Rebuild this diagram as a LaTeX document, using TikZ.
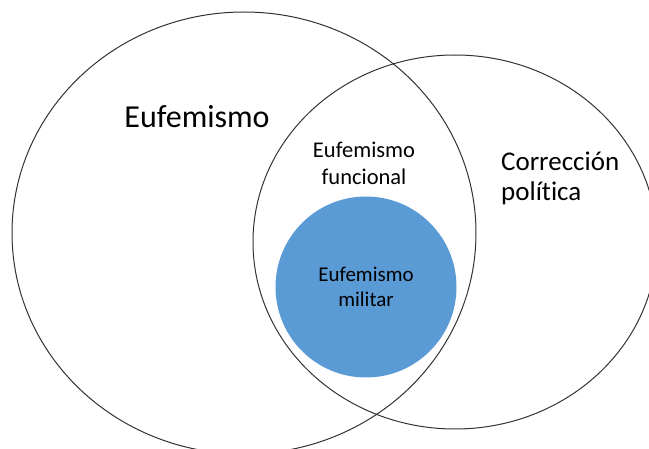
\documentclass[tikz,border=0pt]{standalone}
\usepackage{fontspec}
\setmainfont{Carlito}[Ligatures=NoCommon]
\usetikzlibrary{shapes.geometric}
\definecolor{militarblue}{HTML}{5B9BD5}

\begin{document}
\begin{tikzpicture}[x=1pt, y=-1pt,
		set/.style={ellipse, draw=black!80, line width=1pt},
		settext/.style={align=center, inner sep=0pt}]
	\clip (0,0) rectangle (649,449);
	\fill[white] (0,0) rectangle (649,449);

	% the two big sets
	\node[set, minimum width=464pt, minimum height=442pt] (eufemismo) at (244,233) {};
	\node[set, minimum width=404pt, minimum height=374pt] (correccion) at (455,242) {};

	% the inner set, filled
	\node[circle, fill=militarblue, minimum size=181pt, settext,
		font=\fontsize{21}{25}\selectfont] (militar) at (366,287) {Eufemismo\\militar};

	\node[settext, anchor=base, font=\fontsize{32}{38}\selectfont] (eufemismotext) at (197,128) {Eufemismo};
	\node[settext, font=\fontsize{22.5}{27}\selectfont] (funcional) at (364,163) {Eufemismo\\funcional};
	\node[settext, align=left, anchor=west, font=\fontsize{27}{30}\selectfont] (correcciontext) at (501,178) {Corrección\\política};
\end{tikzpicture}
\end{document}
